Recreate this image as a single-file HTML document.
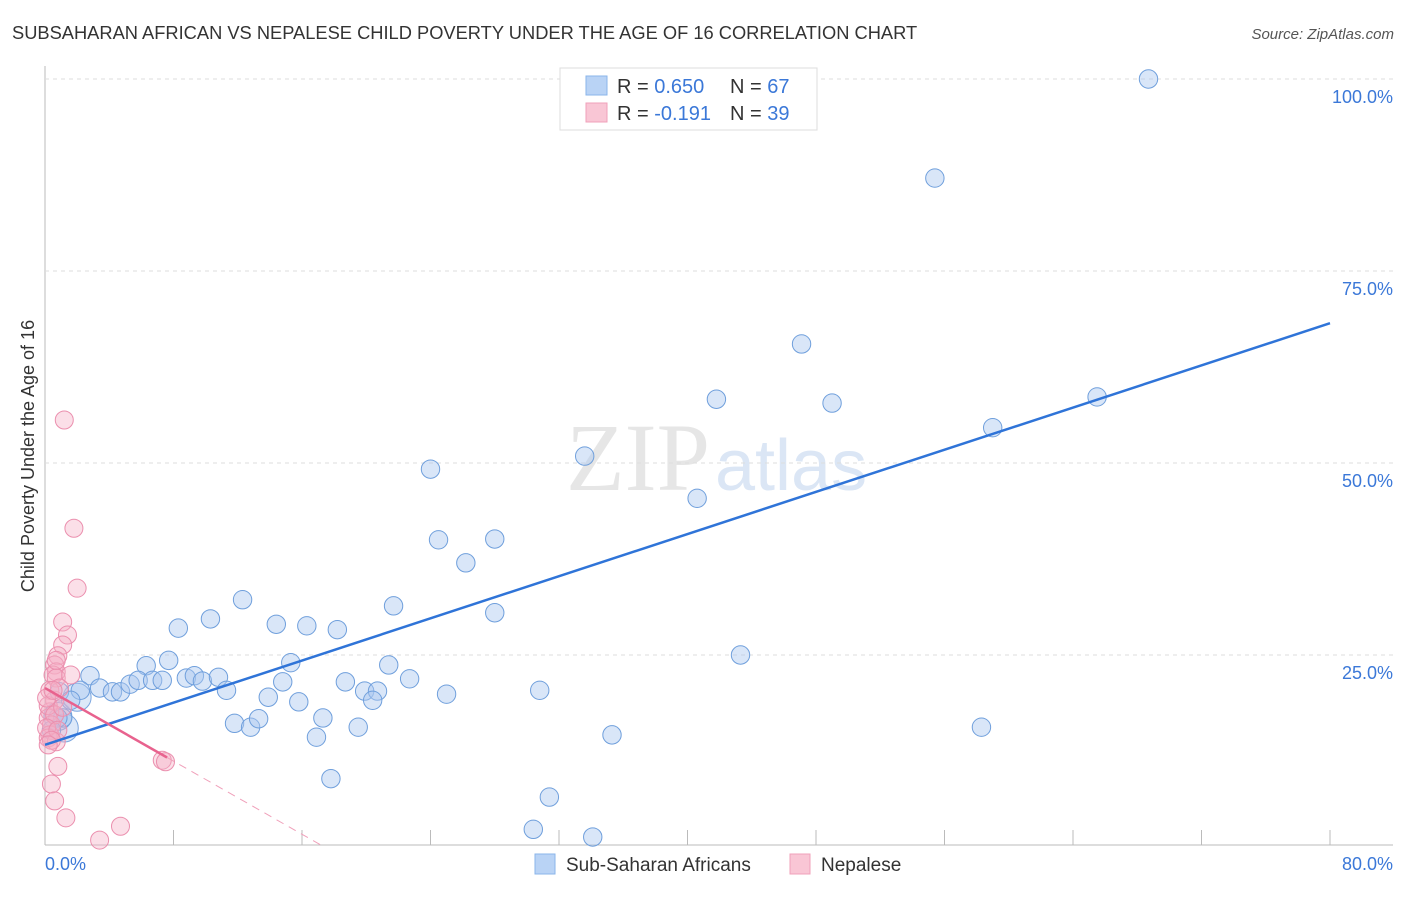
<!DOCTYPE html>
<html><head><meta charset="utf-8"><style>
body{margin:0;background:#fff;font-family:"Liberation Sans",sans-serif;}
</style></head><body>
<svg id="c" width="1406" height="892" xmlns="http://www.w3.org/2000/svg" style="font-family:'Liberation Sans',sans-serif">
<text x="12" y="39" font-size="18.3" fill="#333">SUBSAHARAN AFRICAN VS NEPALESE CHILD POVERTY UNDER THE AGE OF 16 CORRELATION CHART</text>
<text x="1394" y="39" font-size="15" fill="#555" font-style="italic" text-anchor="end">Source: ZipAtlas.com</text>
<text transform="translate(34,456) rotate(-90)" font-size="18" fill="#333" text-anchor="middle">Child Poverty Under the Age of 16</text>
<text x="710" y="490" font-size="96" fill="#e6e6e6" text-anchor="end" font-family="Liberation Serif,serif">ZIP</text>
<text x="715" y="490" font-size="72" fill="#dbe6f5">atlas</text>
<g id="grid"></g><g id="pts"></g><g id="lines"></g>
<g>
<rect x="560" y="68" width="257" height="62" fill="#fff" stroke="#ddd"/>
<rect x="586" y="76" width="21" height="19" fill="#b9d3f5" stroke="#8ab4ea"/>
<rect x="586" y="103" width="21" height="19" fill="#f9c6d5" stroke="#f0a0ba"/>
<text x="617" y="93" font-size="20" fill="#333">R = <tspan fill="#3b78d8">0.650</tspan></text>
<text x="730" y="93" font-size="20" fill="#333">N = <tspan fill="#3b78d8">67</tspan></text>
<text x="617" y="120" font-size="20" fill="#333">R = <tspan fill="#3b78d8">-0.191</tspan></text>
<text x="730" y="120" font-size="20" fill="#333">N = <tspan fill="#3b78d8">39</tspan></text>
</g>
<g>
<rect x="535" y="854" width="20" height="20" fill="#b9d3f5" stroke="#8ab4ea"/>
<text x="566" y="871" font-size="19" fill="#333">Sub-Saharan Africans</text>
<rect x="790" y="854" width="20" height="20" fill="#f9c6d5" stroke="#f0a0ba"/>
<text x="821" y="871" font-size="19" fill="#333">Nepalese</text>
</g>
<text x="45" y="870" font-size="18" fill="#3b78d8">0.0%</text>
<text x="1393" y="870" font-size="18" fill="#3b78d8" text-anchor="end">80.0%</text>
</svg>
<script>
const blueX=[68.7,55.4,47.1,41.8,49.0,65.5,59.0,24.0,33.6,40.6,24.5,28.0,26.2,21.7,28.0,12.3,10.3,8.3,14.4,16.3,18.2,43.3,15.3,21.4,7.7,6.3,2.8,2.2,3.4,4.2,4.7,5.3,5.8,6.7,7.3,8.8,9.3,9.8,10.8,11.3,14.8,13.9,15.8,18.7,19.9,20.7,20.4,22.7,25.0,30.8,11.8,12.8,13.3,17.3,16.9,19.5,35.3,58.3,17.8,31.4,30.4,34.1,0.9,1.6,1.1,0.8,0.4];
const blueY=[100.0,87.1,65.5,58.3,57.8,58.6,54.6,49.2,50.9,45.4,40.0,40.1,37.0,31.4,30.5,32.2,29.7,28.5,29.0,28.8,28.3,25.0,24.0,23.7,24.3,23.6,22.3,20.4,20.7,20.2,20.2,21.2,21.7,21.7,21.7,22.0,22.3,21.6,22.1,20.4,21.5,19.5,18.9,21.5,20.3,20.3,19.1,21.9,19.9,20.4,16.1,15.6,16.7,16.8,14.3,15.6,14.6,15.6,8.9,6.5,2.3,1.3,20.2,19.1,16.8,16.8,15.2];
const pinkX=[1.2,1.8,2.0,1.1,1.4,1.1,0.8,0.6,0.7,0.5,0.7,0.3,0.6,0.3,0.2,0.4,0.3,0.2,0.7,0.8,0.4,0.6,1.3,4.7,3.4,7.3,7.5,1.6,0.9,0.2,0.6,0.1,0.1,0.5,0.8,0.4,1.1,0.2,0.7];
const pinkY=[55.6,41.5,33.7,29.3,27.6,26.3,24.9,23.7,22.8,22.4,22.0,20.4,19.1,17.6,16.8,15.9,14.6,14.2,13.7,10.5,8.2,6.0,3.8,2.7,0.9,11.3,11.1,22.4,20.7,18.4,17.2,15.5,19.4,20.4,15.2,13.9,18.2,13.3,24.3];
const bigX=[1.2,0.8,2.0];
const bigY=[15.5,17.0,19.5];
const yTicks=[25,50,75,100];
const yTickLabels=["25.0%","50.0%","75.0%","100.0%"];
const xTickVals=[8,16,24,32,40,48,56,64,72,80];
const blueTrend=[13.3,68.2];
const pinkTrend=[20.7,-1.19];
const sx=v=>45+v/80*1285, sy=v=>847-v/100*768;
const NS="http://www.w3.org/2000/svg";
function mk(p,t,a){const e=document.createElementNS(NS,t);for(const k in a)e.setAttribute(k,a[k]);p.appendChild(e);return e;}
const g=document.getElementById('grid');
let e=mk(g,'line',{x1:45,y1:66,x2:45,y2:845,stroke:'#bbb'});


e=mk(g,'line',{x1:45,y1:845,x2:1393,y2:845,stroke:'#bbb'});


yTicks.forEach((v,i)=>{
 e=mk(g,'line',{x1:45,x2:1393,y1:sy(v),y2:sy(v),stroke:'#ddd','stroke-dasharray':'4,4'});
 
 
 e=mk(g,'text',{x:1393,y:sy(v)+24,'font-size':18,fill:'#3b78d8','text-anchor':'end'});
 e.textContent=yTickLabels[i];
 
 
});
xTickVals.forEach(v=>{
 e=mk(g,'line',{x1:sx(v),x2:sx(v),y1:830,y2:845,stroke:'#bbb'});
 
 
});
const p=document.getElementById('pts');
bigX.forEach((x,i)=>{
 e=mk(p,'circle',{cx:sx(x),cy:sy(bigY[i]),r:14,fill:'rgba(170,200,240,0.4)',stroke:'#7aa6df','stroke-width':1});
 
 
});
blueX.forEach((x,i)=>{
 e=mk(p,'circle',{cx:sx(x),cy:sy(blueY[i]),r:9.2,fill:'rgba(170,200,240,0.45)',stroke:'#6f9fdc','stroke-width':1});
 
 
});
pinkX.forEach((x,i)=>{
 e=mk(p,'circle',{cx:sx(x),cy:sy(pinkY[i]),r:9,fill:'rgba(245,175,198,0.4)',stroke:'#eb8fae','stroke-width':1});
 
 
});
const L=document.getElementById('lines');
e=mk(L,'line',{x1:sx(0),y1:sy(blueTrend[0]),x2:sx(80),y2:sy(blueTrend[0]+(blueTrend[1]-blueTrend[0])),stroke:'#2f74d8','stroke-width':2.5});


const xEnd=7.6, xZero=-pinkTrend[0]/pinkTrend[1];
e=mk(L,'line',{x1:sx(0),y1:sy(pinkTrend[0]),x2:sx(xEnd),y2:sy(pinkTrend[0]+pinkTrend[1]*xEnd),stroke:'#e8628e','stroke-width':2.5});


e=mk(L,'line',{x1:sx(xEnd),y1:sy(pinkTrend[0]+pinkTrend[1]*xEnd),x2:sx(xZero),y2:sy(0),stroke:'#f0a0ba','stroke-width':1,'stroke-dasharray':'8,6'});


</script>
</body></html>
